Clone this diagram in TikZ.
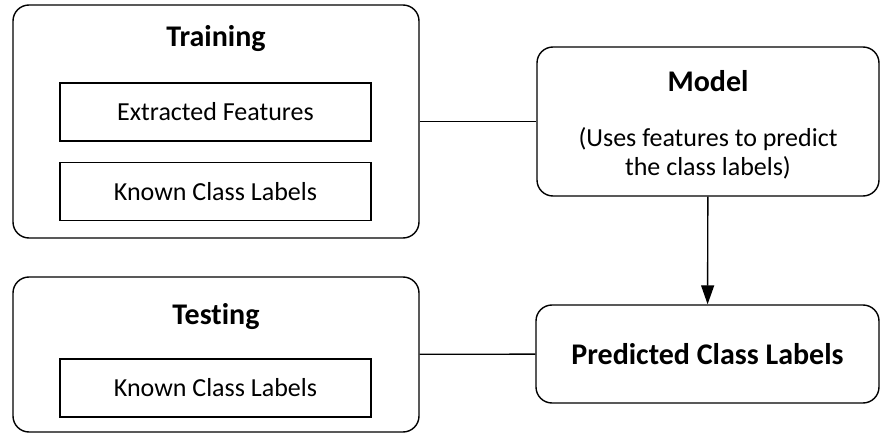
\documentclass[tikz,border=0pt]{standalone}
\usepackage{fontspec}
\setmainfont{Carlito}[Ligatures=NoCommon]
\usepackage{tikz}
\usetikzlibrary{positioning,arrows.meta}

\begin{document}
\begin{tikzpicture}[
  x=0.5pt,y=-0.5pt,
  font=\fontsize{13}{14.5}\selectfont,
  stage/.style={draw,line width=0.7pt,rounded corners=8pt,inner sep=0pt,align=center},
  item/.style={draw,line width=0.6pt,minimum width=155.5pt,minimum height=29pt,inner sep=0pt},
  heading/.style={font=\fontsize{15}{17}\selectfont\bfseries},
  node distance=10pt,
]
\useasboundingbox (0,0) rectangle (880,433);
\node[stage,minimum width=203pt,minimum height=116.5pt] (train) at (216,121.5) {};
\node[heading,anchor=base] (traintitle) at (216,47) {Training};
\node[item] (feat) at (215.5,112) {Extracted Features};
\node[item,below=of feat] (trainlab) {Known Class Labels};
\node[stage,minimum width=203pt,minimum height=77.5pt] (test) at (216,354.5) {};
\node[heading,anchor=base] (testtitle) at (216,325) {Testing};
\node[item] (testlab) at (215.5,388) {Known Class Labels};
\node[stage,minimum width=171pt,minimum height=74.5pt] (model) at (708,121.5)
  {\rule{0pt}{14pt}{\fontsize{15}{17}\selectfont\bfseries Model}\\[13pt]
   (Uses features to predict\\ the class labels)};
\node[stage,heading,minimum width=171.5pt,minimum height=49pt] (pred) at (707.5,354)
  {Predicted Class Labels};
\draw[line width=0.7pt] (train) -- (model);
\draw[line width=0.7pt] (test) -- (pred);
\draw[line width=0.7pt,-{Triangle[length=9.5pt,width=6.5pt]}] (model) -- (pred);
\end{tikzpicture}
\end{document}
